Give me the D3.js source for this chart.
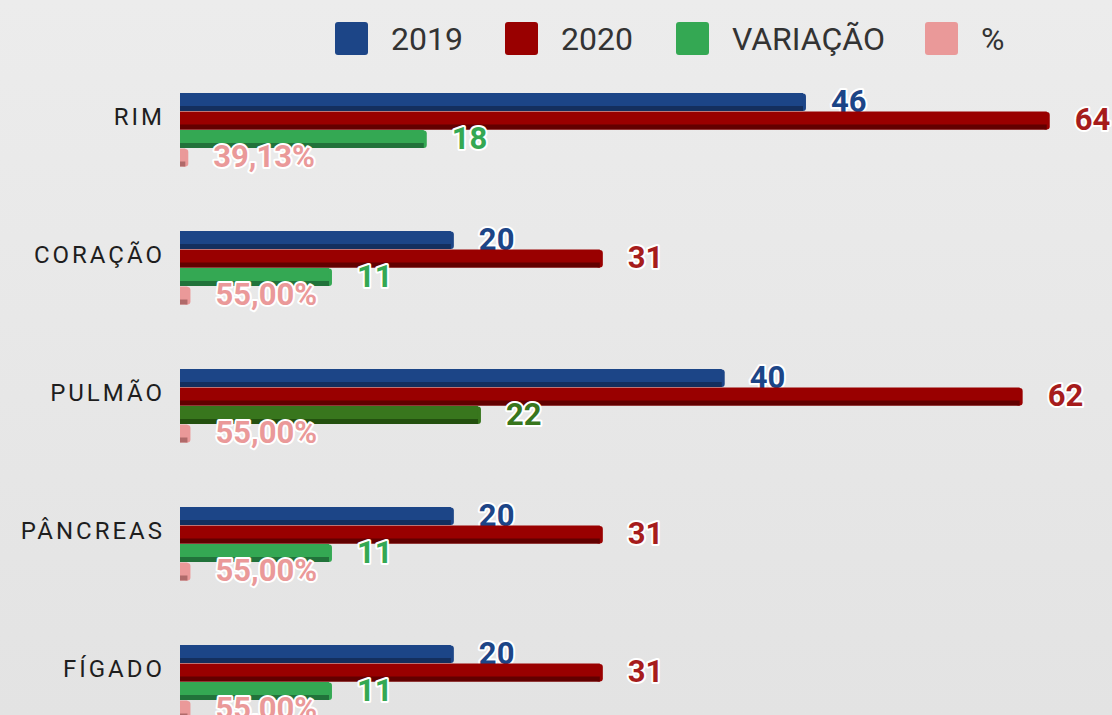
<!DOCTYPE html>
<html>
<head>
<meta charset="utf-8">
<script src="https://cdn.jsdelivr.net/npm/d3@7"></script>
<style>
  html, body { margin: 0; padding: 0; overflow: hidden; }
  body { width: 1112px; height: 715px; }
</style>
</head>
<body>
<div id="chart"></div>
<script>
const categories = ["RIM", "CORAÇÃO", "PULMÃO", "PÂNCREAS", "FÍGADO"];
const values2019 = [46, 20, 40, 20, 20];
const values2020 = [64, 31, 62, 31, 31];
const variacao = [18, 11, 22, 11, 11];
const percent = [39.13, 55.00, 55.00, 55.00, 55.00];
const seriesNames = ["2019", "2020", "VARIAÇÃO", "%"];

const colors = {
    "2019": { main: "#1c4587", dark: "#142f5e", label: "#1c4587" },
    "2020": { main: "#990000", dark: "#620000", label: "#a61c1c" },
    "VARIAÇÃO": { main: "#34a853", dark: "#21723a", label: "#34a853" },
    "%": { main: "#ea9999", dark: "#b06a6a", label: "#ea9999" }
};
// the PULMÃO variation bar is drawn in a darker green in the original
const darkGreen = { main: "#38761d", dark: "#23500f", label: "#38761d" };

const width = 1112, height = 715;

const svg = d3.select("#chart").append("svg")
    .attr("width", width)
    .attr("height", height);

const bg = svg.append("defs").append("linearGradient")
    .attr("id", "bg").attr("x1", 0).attr("y1", 0).attr("x2", 0).attr("y2", 1);
bg.append("stop").attr("offset", "0%").attr("stop-color", "#ececec");
bg.append("stop").attr("offset", "100%").attr("stop-color", "#e3e3e3");
svg.append("rect").attr("width", width).attr("height", height).attr("fill", "url(#bg)");

const x = d3.scaleLinear().domain([0, 70]).range([180, 1128]);
const y0 = d3.scaleBand().domain(categories).range([93, 93 + 138 * categories.length]);
const y1 = d3.scaleBand().domain(seriesNames).range([0, 74]);

const fmtPct = v => v.toFixed(2).replace(".", ",") + "%";

const rows = categories.map((c, i) => ({
    category: c,
    bars: [
        { series: "2019", value: values2019[i], label: String(values2019[i]) },
        { series: "2020", value: values2020[i], label: String(values2020[i]) },
        { series: "VARIAÇÃO", value: variacao[i], label: String(variacao[i]) },
        { series: "%", value: percent[i] / 100, label: fmtPct(percent[i]) }
    ]
}));

function colorOf(d, cat) {
    if (d.series === "VARIAÇÃO" && cat === "PULMÃO") return darkGreen;
    return colors[d.series];
}

const groups = svg.selectAll(".cat")
    .data(rows)
    .enter().append("g")
    .attr("class", "cat")
    .attr("transform", d => `translate(0, ${y0(d.category)})`);

// category labels
groups.append("text")
    .attr("x", 165)
    .attr("y", 24)
    .attr("text-anchor", "end")
    .attr("dominant-baseline", "central")
    .style("font-family", "Roboto, sans-serif")
    .style("font-size", "24px")
    .style("letter-spacing", "3px")
    .style("fill", "#1e1e1e")
    .text(d => d.category);

const bh = y1.bandwidth();

const bars = groups.selectAll(".bar")
    .data(d => d.bars.map(b => Object.assign({ cat: d.category }, b)))
    .enter().append("g")
    .attr("class", "bar")
    .attr("transform", d => `translate(0, ${y1(d.series)})`);

// end cap (slightly rounded)
bars.append("rect")
    .attr("x", d => x(d.value) - 4)
    .attr("y", 0.5)
    .attr("width", 7)
    .attr("height", bh - 1)
    .attr("rx", 3)
    .attr("fill", d => colorOf(d, d.cat).main);

bars.append("rect")
    .attr("x", x(0))
    .attr("y", 0)
    .attr("width", d => x(d.value) - x(0))
    .attr("height", bh - 0.5)
    .attr("fill", d => colorOf(d, d.cat).main);

// darker lower face
bars.append("rect")
    .attr("x", x(0))
    .attr("y", bh - 5.5)
    .attr("width", d => x(d.value) - x(0))
    .attr("height", 5)
    .attr("fill", d => colorOf(d, d.cat).dark);

// value labels
bars.append("text")
    .attr("x", d => x(d.value) + 28)
    .attr("y", bh / 2 - 1)
    .attr("dominant-baseline", "central")
    .style("font-family", "Roboto, sans-serif")
    .style("font-weight", "bold")
    .style("font-size", "31px")
    .style("paint-order", "stroke")
    .style("stroke", "#fff")
    .style("stroke-width", "4px")
    .style("stroke-linejoin", "round")
    .style("fill", d => colorOf(d, d.cat).label)
    .text(d => d.label);

// legend
const legendX = [335, 505, 676, 925];
const legend = svg.selectAll(".legend")
    .data(seriesNames)
    .enter().append("g")
    .attr("class", "legend")
    .attr("transform", (d, i) => `translate(${legendX[i]}, 22)`);

legend.append("rect")
    .attr("width", 33)
    .attr("height", 33)
    .attr("rx", 3)
    .attr("fill", d => colors[d].main);

legend.append("text")
    .attr("x", 56)
    .attr("y", 17)
    .attr("dominant-baseline", "central")
    .style("font-family", "Roboto, sans-serif")
    .style("font-size", "32px")
    .style("fill", "#333")
    .text(d => d);
</script>
</body>
</html>
